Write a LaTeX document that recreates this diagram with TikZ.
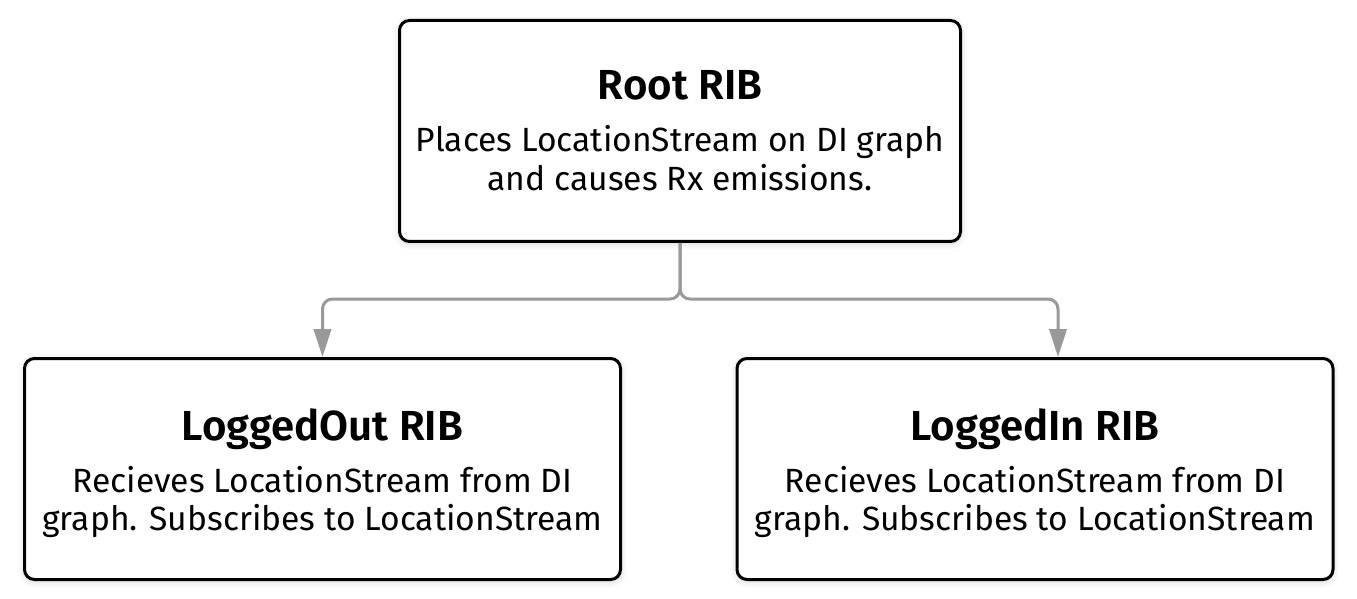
\documentclass[tikz,border=0pt]{standalone}
\usepackage{fontspec}
\setmainfont{Fira Sans}[BoldFont={Fira Sans SemiBold}]
\usetikzlibrary{arrows.meta,shadows.blur}
\definecolor{conngray}{HTML}{999999}
\tikzset{
  ribbox/.style={draw=black, line width=2.25pt, rounded corners=7.5pt, fill=white,
    align=center, inner sep=0pt, font=\fontsize{25.2}{29}\selectfont,
    minimum height=165.75pt,
    blur shadow={shadow blur steps=6, shadow xshift=0pt, shadow yshift=-1.5pt, shadow blur radius=5pt, shadow opacity=18}},
  conn/.style={draw=conngray, line width=2.25pt, rounded corners=7.5pt,
    -{Triangle[length=21pt,width=13pt]}}
}
\newcommand{\ribhead}[2][0pt]{{\fontsize{31.5}{40}\selectfont\bfseries\rule{0pt}{#1}#2}\\[10pt]}
\begin{document}
\begin{tikzpicture}[x=0.75pt,y=-0.75pt]
\useasboundingbox (0,0) rectangle (1357,599);
\node[ribbox, minimum width=420.75pt] (root) at (680,131)
  {\ribhead{Root RIB}Places LocationStream on DI graph\\and causes Rx emissions.};
\node[ribbox, minimum width=447pt] (left) at (322.5,469)
  {\ribhead[30pt]{LoggedOut RIB}Recieves LocationStream from DI\\graph. Subscribes to LocationStream};
\node[ribbox, minimum width=447pt] (right) at (1035,469)
  {\ribhead[30pt]{LoggedIn RIB}Recieves LocationStream from DI\\graph. Subscribes to LocationStream};
\coordinate (split) at (680,299);
\coordinate (rin) at (1058,357);
\draw[conn] (root.south) |- (left.north |- split) -- (left.north);
\draw[conn] (root.south) |- (rin |- split) -- (rin);
\end{tikzpicture}
\end{document}
